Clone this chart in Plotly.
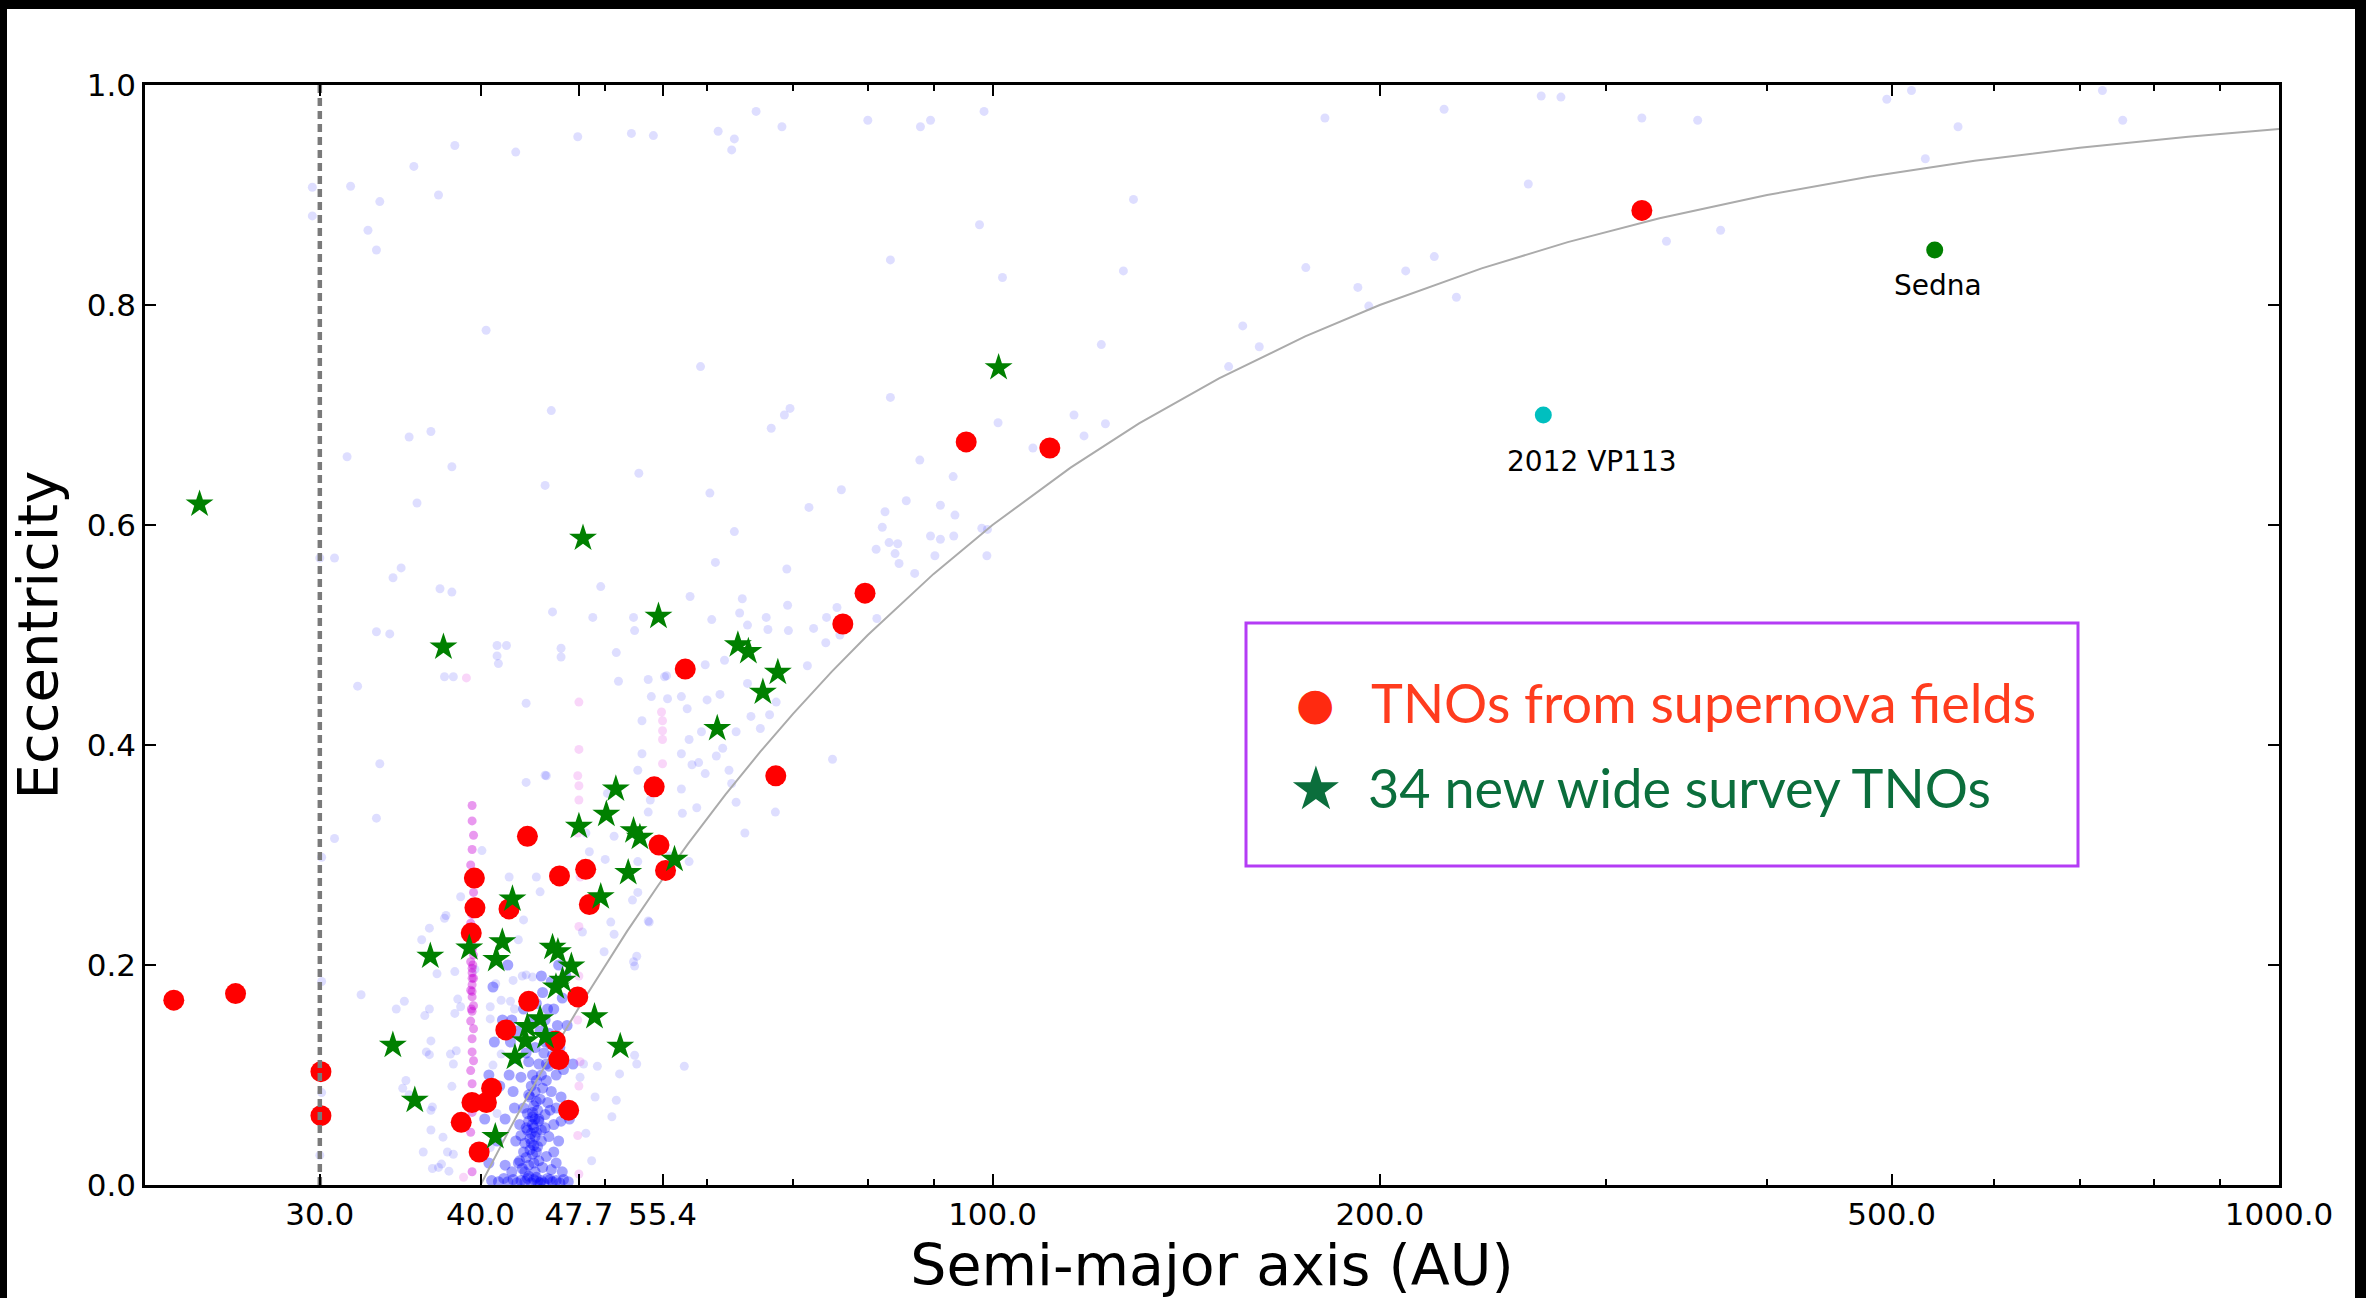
import math
import plotly.graph_objects as go

# ---------------- data ----------------
# TNOs from supernova fields (red dots): semi-major axis (AU), eccentricity
RED_A = [23.1, 25.8, 30.06, 30.06, 39.56, 39.6, 39.34, 43.5, 42.09, 46.07, 48.28,
         48.6, 54.58, 55.05, 55.7, 57.7, 43.6, 47.6, 41.85, 45.73, 46.02, 40.8,
         39.39, 40.42, 38.64, 46.83, 39.9, 95.4, 110.8, 79.6, 76.5, 67.85, 319.7]
RED_E = [0.168, 0.174, 0.103, 0.063, 0.279, 0.252, 0.229, 0.317, 0.251, 0.281, 0.287,
         0.255, 0.362, 0.309, 0.286, 0.469, 0.167, 0.171, 0.141, 0.131, 0.114, 0.088,
         0.075, 0.075, 0.057, 0.068, 0.030, 0.6755, 0.670, 0.538, 0.510, 0.372, 0.886]

# new wide survey TNOs (green stars)
STAR_A = [24.19, 37.43, 55.0, 50.96, 50.1, 47.7, 52.6, 53.2, 56.6, 52.1, 49.6, 42.35,
          36.56, 39.2, 41.59, 41.14, 45.5, 45.94, 47.06, 46.32, 45.78, 49.05, 51.36,
          34.19, 35.56, 41.07, 44.5, 43.5, 44.93, 43.35, 42.54, 101.1, 48.05, 63.4,
          64.6, 68.1, 66.3, 61.1]
STAR_E = [0.619, 0.489, 0.517, 0.360, 0.337, 0.326, 0.322, 0.316, 0.296, 0.284, 0.262,
          0.260, 0.208, 0.2155, 0.221, 0.205, 0.216, 0.212, 0.199, 0.186, 0.180, 0.153,
          0.126, 0.127, 0.077, 0.044, 0.151, 0.144, 0.135, 0.131, 0.116, 0.743, 0.588,
          0.491, 0.485, 0.466, 0.448, 0.415]

# known TNOs, faint background cloud (a, e)
BG_OUTER = [
    (65.5, 0.976), (80.0, 0.968), (87.9, 0.962), (89.5, 0.968), (98.5, 0.976), (68.6, 0.962),
    (61.2, 0.958), (63.0, 0.951), (62.7, 0.941), (52.4, 0.956), (54.5, 0.954), (47.6, 0.953),
    (42.6, 0.939), (38.2, 0.945), (35.5, 0.926), (37.1, 0.900), (31.7, 0.908), (33.4, 0.894),
    (29.6, 0.907), (29.6, 0.881), (32.7, 0.868), (33.2, 0.850), (97.7, 0.873), (83.3, 0.841),
    (101.8, 0.825), (40.4, 0.777), (59.3, 0.744), (45.4, 0.704), (83.3, 0.716), (69.6, 0.706),
    (68.9, 0.700), (67.3, 0.688), (101.0, 0.693), (35.2, 0.680), (36.6, 0.685), (31.5, 0.662),
    (38.0, 0.653), (53.1, 0.647), (44.9, 0.636), (35.7, 0.620), (60.3, 0.629), (76.3, 0.632),
    (72.0, 0.616), (85.7, 0.622), (87.8, 0.659), (93.2, 0.644), (91.1, 0.618), (93.5, 0.609),
    (82.5, 0.612), (82.1, 0.598), (63.0, 0.594), (83.1, 0.584), (84.4, 0.583), (89.5, 0.590),
    (91.1, 0.587), (93.3, 0.590), (98.1, 0.597), (81.2, 0.578), (84.0, 0.574), (90.2, 0.572),
    (99.0, 0.572), (30.0, 0.570), (30.8, 0.570),
    (181.3, 0.970), (224.4, 0.978), (267.0, 0.990), (276.6, 0.989), (319.7, 0.970),
    (353.3, 0.968), (495.6, 0.987), (518.0, 0.995), (563.0, 0.962), (729.0, 0.995),
    (756.0, 0.968), (531.0, 0.933), (260.9, 0.910), (128.7, 0.896), (368.1, 0.868),
    (334.1, 0.858), (220.5, 0.844), (126.4, 0.831), (175.2, 0.834), (209.5, 0.831),
    (192.3, 0.816), (229.4, 0.807), (196.1, 0.799), (156.5, 0.781), (121.5, 0.764),
    (161.2, 0.762), (152.6, 0.744), (115.7, 0.700), (122.4, 0.692), (117.8, 0.681),
    (107.5, 0.670),
]
BG_MID = [
    (99.1, 0.596), (84.6, 0.565), (87.0, 0.556), (60.9, 0.566), (69.2, 0.560), (58.2, 0.535),
    (49.6, 0.544), (63.9, 0.533), (69.3, 0.527), (63.6, 0.520), (66.7, 0.516), (66.9, 0.505),
    (69.4, 0.504), (64.5, 0.509), (60.5, 0.514), (52.6, 0.516), (52.7, 0.504), (48.9, 0.516),
    (74.3, 0.516), (75.7, 0.525), (72.6, 0.506), (74.2, 0.493), (81.3, 0.515), (76.1, 0.500),
    (46.2, 0.488), (51.0, 0.484), (71.8, 0.472), (59.8, 0.473), (61.9, 0.477), (55.8, 0.463),
    (54.0, 0.4595), (51.2, 0.458), (64.5, 0.456), (67.9, 0.439), (67.1, 0.4275), (54.3, 0.444),
    (57.3, 0.444), (57.9, 0.433), (60.0, 0.441), (61.4, 0.446), (53.4, 0.422), (64.9, 0.426),
    (66.0, 0.415), (63.2, 0.412), (59.4, 0.412), (58.1, 0.405), (61.7, 0.397), (61.0, 0.390),
    (53.4, 0.392), (57.3, 0.392), (58.4, 0.382), (59.1, 0.384), (59.8, 0.374), (62.4, 0.377),
    (62.7, 0.365), (53.0, 0.377), (54.0, 0.339), (57.3, 0.360), (63.2, 0.348), (67.8, 0.339),
    (75.1, 0.387), (64.2, 0.320), (58.1, 0.294), (56.1, 0.299), (48.6, 0.303), (50.0, 0.296),
    (50.8, 0.317), (53.0, 0.294),
    (34.7, 0.561), (34.2, 0.552), (37.2, 0.542), (38.0, 0.539), (33.2, 0.503), (34.0, 0.501),
    (45.5, 0.521), (41.2, 0.4905), (41.9, 0.4905), (37.5, 0.462), (38.1, 0.462), (41.3, 0.474),
    (32.1, 0.4535), (43.4, 0.438), (55.6, 0.462), (55.9, 0.442), (45.0, 0.372), (43.4, 0.366),
    (33.4, 0.383), (50.2, 0.356), (54.2, 0.350), (57.4, 0.338), (58.9, 0.343), (48.3, 0.320),
    (33.2, 0.3335), (30.8, 0.315), (30.1, 0.298), (40.1, 0.304), (44.2, 0.280), (44.5, 0.2665),
    (42.1, 0.280), (38.6, 0.262), (43.2, 0.241), (42.8, 0.223), (37.5, 0.2425), (36.5, 0.2335),
    (36.0, 0.223), (48.0, 0.230), (52.5, 0.259), (53.0, 0.266), (54.0, 0.240), (52.9, 0.208),
    (52.7, 0.199), (49.9, 0.212), (43.1, 0.190), (39.6, 0.196), (38.2, 0.194), (37.0, 0.192),
    (32.3, 0.173), (34.9, 0.167), (34.4, 0.160), (36.5, 0.160), (36.2, 0.154), (38.4, 0.169),
    (38.6, 0.162), (40.7, 0.151), (42.2, 0.167), (42.5, 0.160), (36.6, 0.131), (36.5, 0.1185),
    (38.3, 0.122), (38.0, 0.0897), (34.8, 0.088), (35.2, 0.082), (36.6, 0.068), (37.7, 0.030),
    (37.1, 0.016), (36.1, 0.030), (40.7, 0.034), (41.2, 0.065), (30.0, 0.027), (49.3, 0.108),
    (57.6, 0.108), (41.2, 0.481), (46.2, 0.480), (44.9, 0.3725), (35.0, 0.095), (37.8, 0.0126),
    (30.1, 0.084), (30.1, 0.185),
    (54.1, 0.239), (52.6, 0.203), (50.5, 0.239), (50.8, 0.228), (37.6, 0.245), (36.3, 0.121),
    (38.2, 0.156), (40.7, 0.162), (41.5, 0.168), (41.1, 0.183), (42.4, 0.186), (43.4, 0.191),
    (43.9, 0.189), (41.5, 0.119), (40.9, 0.109), (37.9, 0.119), (38.1, 0.110), (36.7, 0.071),
    (36.6, 0.050), (37.4, 0.0435), (38.1, 0.028), (37.3, 0.019), (36.7, 0.015), (50.6, 0.062),
    (51.0, 0.077), (51.3, 0.101), (52.7, 0.118), (52.9, 0.110), (48.3, 0.047), (48.8, 0.022),
    (49.1, 0.080), (47.8, 0.098), (48.1, 0.110),
]
# the dense classical Kuiper belt
BG_CORE = [
    (40.8, 0.004), (41.3, 0.003), (41.7, 0.006), (42.0, 0.003), (42.4, 0.005), (42.7, 0.002),
    (43.0, 0.004), (43.3, 0.003), (43.5, 0.006), (43.8, 0.002), (44.0, 0.005), (44.3, 0.003),
    (44.6, 0.004), (44.8, 0.002), (45.1, 0.006), (45.5, 0.003), (45.8, 0.004), (46.1, 0.002),
    (46.4, 0.005), (46.8, 0.003), (43.6, 0.008), (44.2, 0.007), (44.5, 0.002), (45.3, 0.005),
    (42.3, 0.012), (42.8, 0.020), (43.1, 0.015), (43.4, 0.025), (43.6, 0.018), (43.9, 0.028),
    (44.1, 0.012), (44.4, 0.022), (44.7, 0.016), (45.0, 0.026), (45.4, 0.014), (45.8, 0.020),
    (46.3, 0.012), (41.8, 0.018), (43.7, 0.032), (44.0, 0.020), (44.2, 0.030), (43.2, 0.030),
    (42.6, 0.040), (43.0, 0.045), (43.3, 0.038), (43.5, 0.050), (43.7, 0.042), (43.9, 0.055),
    (44.0, 0.036), (44.2, 0.048), (44.4, 0.058), (44.6, 0.040), (44.9, 0.052), (45.2, 0.044),
    (45.6, 0.055), (46.0, 0.040), (43.8, 0.047), (44.1, 0.060), (43.6, 0.058), (44.3, 0.035),
    (43.4, 0.052), (42.9, 0.055), (43.8, 0.038), (44.1, 0.044), (43.9, 0.066), (44.0, 0.052),
    (43.2, 0.070), (43.5, 0.065), (43.7, 0.080), (43.9, 0.062), (44.0, 0.072), (44.1, 0.085),
    (44.3, 0.068), (44.5, 0.078), (44.7, 0.088), (44.9, 0.064), (45.1, 0.075), (45.4, 0.085),
    (45.8, 0.070), (43.8, 0.090), (44.2, 0.076), (43.6, 0.082), (44.4, 0.060), (46.2, 0.080),
    (43.9, 0.100), (44.2, 0.095), (44.4, 0.110), (44.6, 0.100), (44.8, 0.120), (45.0, 0.095),
    (45.2, 0.108), (45.5, 0.118), (45.8, 0.100), (46.1, 0.125), (44.1, 0.125), (43.6, 0.112),
    (44.9, 0.130), (45.3, 0.128),
    (44.5, 0.140), (44.9, 0.150), (45.2, 0.138), (45.6, 0.160), (45.9, 0.145), (46.3, 0.170),
    (44.2, 0.165), (43.8, 0.150), (46.6, 0.190), (45.4, 0.185), (44.7, 0.175), (43.2, 0.160),
    (42.7, 0.140), (46.0, 0.200),
    (40.3, 0.060), (40.6, 0.100), (41.0, 0.130), (41.4, 0.090), (41.8, 0.060), (42.1, 0.100),
    (42.4, 0.085), (41.6, 0.150), (40.9, 0.180), (42.2, 0.130), (41.2, 0.040), (40.6, 0.020),
    (42.5, 0.070), (42.0, 0.200),
    (42.9, 0.022), (43.3, 0.012), (45.6, 0.030), (46.2, 0.058), (45.0, 0.110), (45.7, 0.132),
    (46.4, 0.105), (46.7, 0.145), (45.1, 0.160), (44.6, 0.190), (43.4, 0.120), (43.0, 0.098),
    (42.6, 0.115), (42.3, 0.150), (46.9, 0.060), (47.2, 0.110), (45.3, 0.068), (44.6, 0.050),
]
# resonant objects (magenta): 3:2 near 39.4 AU
PLUTINOS = [
    (39.4, 0.012), (39.5, 0.030), (39.3, 0.048), (39.4, 0.066), (39.5, 0.079), (39.4, 0.092),
    (39.3, 0.104), (39.5, 0.113), (39.4, 0.121), (39.4, 0.133), (39.5, 0.142), (39.3, 0.149),
    (39.4, 0.158), (39.5, 0.163), (39.4, 0.171), (39.3, 0.177), (39.4, 0.182), (39.5, 0.188),
    (39.4, 0.193), (39.4, 0.197), (39.3, 0.203), (39.5, 0.209), (39.4, 0.214), (39.4, 0.222),
    (39.5, 0.231), (39.3, 0.238), (39.4, 0.246), (39.4, 0.257), (39.5, 0.266), (39.4, 0.279),
    (39.3, 0.291), (39.4, 0.305), (39.5, 0.318), (39.4, 0.331), (39.4, 0.345), (39.4, 0.188),
    (39.4, 0.176), (39.45, 0.200), (39.35, 0.160), (39.4, 0.215),
]
# 2:1 near 47.7 AU, 5:2 near 55.4 AU and a few others
OTHER_RESONANT = [
    (47.7, 0.010), (47.6, 0.045), (47.7, 0.090), (47.8, 0.112), (47.6, 0.150), (47.7, 0.190),
    (47.7, 0.235), (47.8, 0.280), (47.6, 0.320), (47.7, 0.350), (47.7, 0.363), (47.6, 0.372),
    (47.7, 0.396), (47.7, 0.439),
    (55.4, 0.383), (55.4, 0.405), (55.4, 0.413), (55.4, 0.422), (55.3, 0.430),
    (39.0, 0.461), (38.8, 0.007),
]

SEDNA_A, SEDNA_E = [540.0], [0.850]
VP113_A, VP113_E = [268.0], [0.700]

NEPTUNE_A = 30.0          # dotted vertical line
Q_PERIHELION = 40.0       # grey curve: constant perihelion distance q = a(1-e)
CURVE_A = [40, 41, 42, 43, 44, 45, 46, 48, 50, 52, 55, 58, 62, 66, 70, 75, 80, 90, 100,
           115, 130, 150, 175, 200, 240, 280, 330, 400, 480, 580, 700, 850, 1000]

X_TICKS = [30, 40, 47.7, 55.4, 100, 200, 500, 1000]
X_TICK_TEXT = ["30.0", "40.0", "47.7", "55.4", "100.0", "200.0", "500.0", "1000.0"]
X_MINOR = [50, 60, 70, 80, 90, 300, 400, 600, 700, 800, 900]
Y_TICKS = [0.0, 0.2, 0.4, 0.6, 0.8, 1.0]
Y_TICK_TEXT = ["0.0", "0.2", "0.4", "0.6", "0.8", "1.0"]

LEGEND_RED = "TNOs from supernova fields"
LEGEND_GREEN = "34 new wide survey TNOs"

# ---------------- layout geometry (pixels) ----------------
W, H = 2366, 1298
ML, MR, MT, MB = 145, 87, 85, 113
PW, PH = W - ML - MR, H - MT - MB


def px(xp):
    return (xp - ML) / PW


def py(yp):
    return (H - MB - yp) / PH


def col(points, i):
    return [p[i] for p in points]


bg = BG_OUTER + BG_MID
curve_e = [1 - Q_PERIHELION / a for a in CURVE_A]

fig = go.Figure()
fig.add_trace(go.Scatter(x=col(bg, 0), y=col(bg, 1), mode="markers", name="known TNOs",
                         marker=dict(size=9, color="rgba(0,0,255,0.13)")))
fig.add_trace(go.Scatter(x=col(BG_CORE, 0), y=col(BG_CORE, 1), mode="markers",
                         name="classical belt", marker=dict(size=11, color="rgba(0,0,255,0.36)")))
fig.add_trace(go.Scatter(x=col(OTHER_RESONANT, 0), y=col(OTHER_RESONANT, 1), mode="markers",
                         name="resonant TNOs", marker=dict(size=9, color="rgba(220,0,220,0.16)")))
fig.add_trace(go.Scatter(x=col(PLUTINOS, 0), y=col(PLUTINOS, 1), mode="markers",
                         name="plutinos", marker=dict(size=9, color="rgba(200,0,215,0.40)")))
fig.add_trace(go.Scatter(x=CURVE_A, y=curve_e, mode="lines", name="q = 40 AU",
                         line=dict(color="#ababab", width=2)))
fig.add_trace(go.Scatter(x=RED_A, y=RED_E, mode="markers", name=LEGEND_RED,
                         marker=dict(size=21, color="#ff0000")))
fig.add_trace(go.Scatter(x=STAR_A, y=STAR_E, mode="markers", name=LEGEND_GREEN,
                         marker=dict(size=21, symbol="star", color="#008000")))
fig.add_trace(go.Scatter(x=[NEPTUNE_A, NEPTUNE_A], y=[0, 1], mode="lines", name="Neptune",
                         line=dict(color="#7a7a7a", width=4.5, dash="8px,5px")))
fig.add_trace(go.Scatter(x=SEDNA_A, y=SEDNA_E, mode="markers", name="Sedna",
                         marker=dict(size=17, color="#008000")))
fig.add_trace(go.Scatter(x=VP113_A, y=VP113_E, mode="markers", name="2012 VP113",
                         marker=dict(size=17, color="#00bfbf")))

axis_common = dict(showgrid=False, zeroline=False, showline=True, linecolor="black",
                   linewidth=2.5, mirror="allticks", ticks="inside", ticklen=11,
                   tickwidth=1.5, tickcolor="black", tickfont=dict(size=31, color="black"),
                   automargin=False)

fig.update_xaxes(type="log", range=[math.log10(21.94), 3], tickmode="array",
                 tickvals=X_TICKS, ticktext=X_TICK_TEXT,
                 minor=dict(tickmode="array", tickvals=X_MINOR, ticks="inside", ticklen=6,
                            tickwidth=1.5, tickcolor="black", showgrid=False),
                 title=dict(text="Semi-major axis (AU)", font=dict(size=57, color="black"),
                            standoff=8),
                 **axis_common)
fig.update_yaxes(range=[0, 1], tickmode="array", tickvals=Y_TICKS, ticktext=Y_TICK_TEXT,
                 title=dict(text="Eccentricity", font=dict(size=56, color="black"),
                            standoff=12),
                 **axis_common)

shapes = [
    # black frame of the picture
    dict(type="rect", xref="paper", yref="paper", x0=px(0), x1=px(7), y0=py(H), y1=py(0),
         fillcolor="black", line=dict(width=0)),
    dict(type="rect", xref="paper", yref="paper", x0=px(0), x1=px(W), y0=py(9), y1=py(0),
         fillcolor="black", line=dict(width=0)),
    dict(type="rect", xref="paper", yref="paper", x0=px(2355), x1=px(W), y0=py(H), y1=py(0),
         fillcolor="black", line=dict(width=0)),
    # legend box
    dict(type="rect", xref="paper", yref="paper", x0=px(1246), x1=px(2078),
         y0=py(866), y1=py(623), line=dict(color="#b43cf5", width=3),
         fillcolor="rgba(0,0,0,0)"),
]

annotations = [
    dict(x=math.log10(SEDNA_A[0]), y=SEDNA_E[0], xref="x", yref="y", text="Sedna",
         showarrow=False, xshift=3, yshift=-35, font=dict(size=28, color="black")),
    dict(x=math.log10(VP113_A[0]), y=VP113_E[0], xref="x", yref="y", text="2012 VP113",
         showarrow=False, xshift=49, yshift=-46, font=dict(size=28, color="black")),
    # legend keys and labels
    dict(x=px(1315), y=py(703), xref="paper", yref="paper", text="●", showarrow=False,
         font=dict(size=44, color="#ff2a10", family="DejaVu Sans")),
    dict(x=px(1316), y=py(788), xref="paper", yref="paper", text="★", showarrow=False,
         font=dict(size=60, color="#0b6e3c", family="DejaVu Sans")),
    dict(x=px(1369), y=py(702), xref="paper", yref="paper", text=LEGEND_RED,
         showarrow=False, xanchor="left", yanchor="middle",
         font=dict(size=54, color="#ff3c1e", family="Lato")),
    dict(x=px(1366), y=py(787), xref="paper", yref="paper", text=LEGEND_GREEN,
         showarrow=False, xanchor="left", yanchor="middle",
         font=dict(size=54, color="#0b6e3c", family="Lato")),
]

fig.update_layout(width=W, height=H, margin=dict(l=ML, r=MR, t=MT, b=MB, pad=0, autoexpand=False),
                  paper_bgcolor="white", plot_bgcolor="white", showlegend=False,
                  font=dict(family="DejaVu Sans", color="black"),
                  shapes=shapes, annotations=annotations)

fig.write_html("out.html")
